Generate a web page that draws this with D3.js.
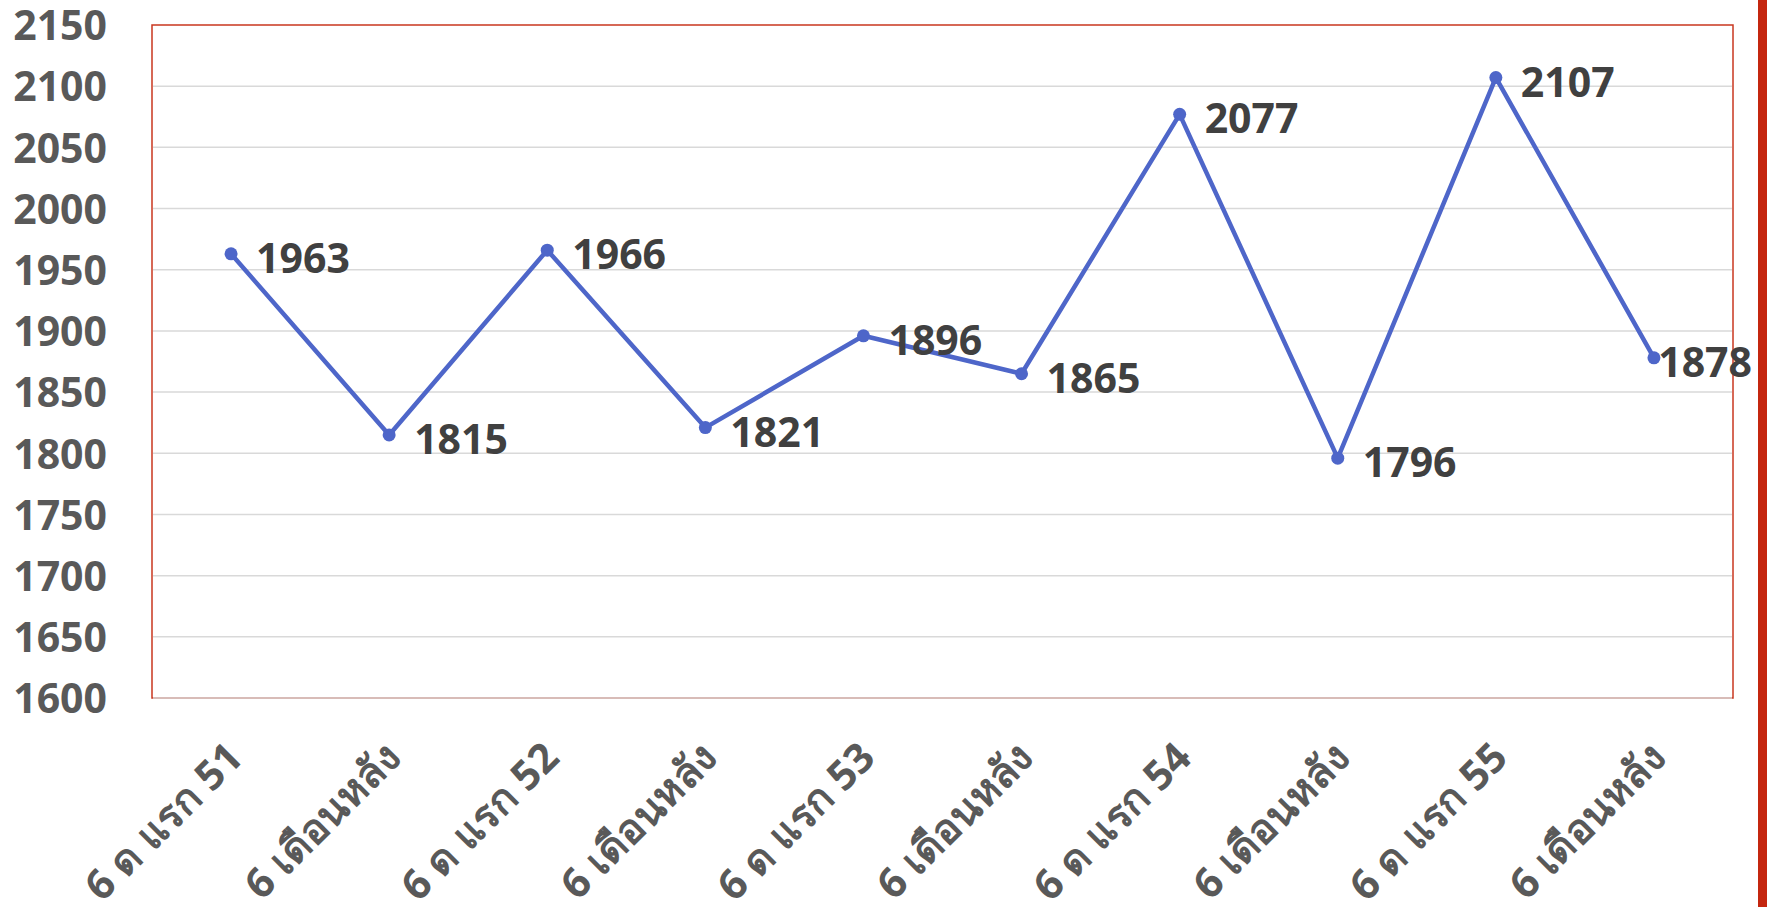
<!DOCTYPE html>
<html>
<head>
<meta charset="utf-8">
<script src="https://cdn.jsdelivr.net/npm/d3@7"></script>
<style>
  body { margin: 0; background: #fff; }
  svg { display: block; }
  text { font-family: "Open Sans", "Noto Sans", sans-serif; font-weight: bold; }
</style>
</head>
<body>
<svg id="chart" width="1767" height="907"></svg>
<script>
// data
var categories = ["6 ด แรก 51", "6 เดือนหลัง", "6 ด แรก 52", "6 เดือนหลัง", "6 ด แรก 53",
                  "6 เดือนหลัง", "6 ด แรก 54", "6 เดือนหลัง", "6 ด แรก 55", "6 เดือนหลัง"];
var values = [1963, 1815, 1966, 1821, 1896, 1865, 2077, 1796, 2107, 1878];
var yTicks = [1600, 1650, 1700, 1750, 1800, 1850, 1900, 1950, 2000, 2050, 2100, 2150];

var svg = d3.select("#chart"),
    W = +svg.attr("width"),
    H = +svg.attr("height");

var plotLeft = 152, plotRight = 1733, plotTop = 25, plotBottom = 698;

var x = d3.scaleBand()
    .domain(d3.range(categories.length))
    .range([plotLeft, plotRight]);

var y = d3.scaleLinear()
    .domain([1600, 2150])
    .range([plotBottom, plotTop]);

function cx(i) { return x(i) + x.bandwidth() / 2; }

// red strip at the right edge
svg.append("rect")
    .attr("x", 1758).attr("y", 0)
    .attr("width", 9).attr("height", H)
    .attr("fill", "#c4260f");

// plot frame
svg.append("rect")
    .attr("x", plotLeft).attr("y", plotTop)
    .attr("width", plotRight - plotLeft).attr("height", plotBottom - plotTop)
    .attr("fill", "none")
    .attr("stroke", "#c9371f")
    .attr("stroke-width", 1.5);

// gridlines
svg.append("g")
  .selectAll("line")
  .data(yTicks.slice(0, -1))
  .enter().append("line")
    .attr("x1", plotLeft + 1).attr("x2", plotRight - 1)
    .attr("y1", function(d) { return y(d); })
    .attr("y2", function(d) { return y(d); })
    .attr("stroke", "#d9d9d9")
    .attr("stroke-width", 1.5);

// y axis labels
var yAxis = svg.append("g")
    .attr("transform", "translate(" + (plotLeft - 45) + ",0)")
    .call(d3.axisLeft(y).tickValues(yTicks).tickSize(0).tickPadding(0).tickFormat(d3.format("d")));
yAxis.select(".domain").remove();
yAxis.selectAll("text")
    .attr("fill", "#595959")
    .style("font-size", "41px")
    .attr("dy", "0.36em");

// x axis labels
var xAxis = svg.append("g")
    .attr("transform", "translate(0," + plotBottom + ")")
    .call(d3.axisBottom(x).tickSize(0).tickFormat(function(i) { return categories[i]; }));
xAxis.select(".domain").remove();
xAxis.selectAll("text")
    .attr("fill", "#595959")
    .style("font-size", "41px")
    .attr("text-anchor", "end")
    .attr("y", 0).attr("dy", 0)
    .attr("transform", "translate(14,62) rotate(-45)");

// line
var line = d3.line()
    .x(function(d, i) { return cx(i); })
    .y(function(d) { return y(d); });

svg.append("path")
    .datum(values)
    .attr("d", line)
    .attr("fill", "none")
    .attr("stroke", "#4e66c9")
    .attr("stroke-width", 4.5)
    .attr("stroke-linejoin", "round");

svg.append("g")
  .selectAll("circle")
  .data(values)
  .enter().append("circle")
    .attr("cx", function(d, i) { return cx(i); })
    .attr("cy", function(d) { return y(d); })
    .attr("r", 6.5)
    .attr("fill", "#4e66c9");

// data labels, pushed back inside the chart if they would run off
var labels = svg.append("g")
  .selectAll("text")
  .data(values)
  .enter().append("text")
    .text(function(d) { return d; })
    .attr("fill", "#404040")
    .style("font-size", "41px")
    .attr("y", function(d) { return y(d) + 19; });

labels.attr("x", function(d, i) {
  var w = this.getComputedTextLength();
  return Math.min(cx(i) + 25, 1752 - w);
});
</script>
</body>
</html>
